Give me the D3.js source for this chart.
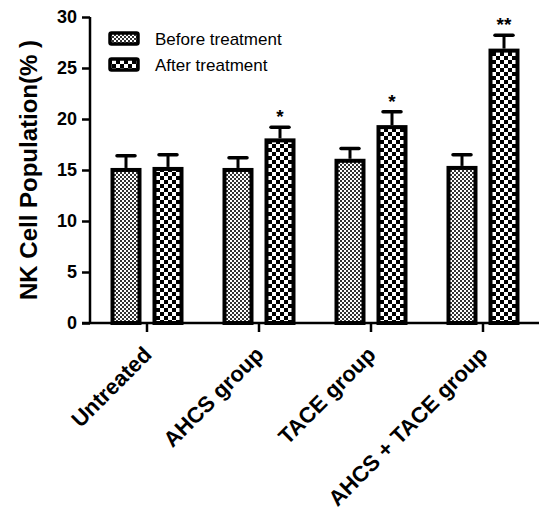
<!DOCTYPE html>
<html>
<head>
<meta charset="utf-8">
<script src="https://cdn.jsdelivr.net/npm/d3@7"></script>
<style>
  html, body { margin: 0; padding: 0; background: #fff; }
  svg { display: block; font-family: Arial, "Liberation Sans", sans-serif; }
</style>
</head>
<body>
<svg id="chart" width="539" height="513"></svg>
<script>
// ==================== DATA ====================
const groups = ['Untreated', 'AHCS group', 'TACE group', 'AHCS + TACE group'];
const seriesKeys = ['before', 'after'];
const seriesLabels = ['Before treatment', 'After treatment'];
const beforeValues = [15.2, 15.2, 16.1, 15.4];
const beforeErrors = [1.2, 1.0, 1.0, 1.1];
const afterValues = [15.3, 18.1, 19.4, 26.9];
const afterErrors = [1.2, 1.1, 1.3, 1.3];
const significance = ['', '*', '*', '**'];
const yTicks = [0, 5, 10, 15, 20, 25, 30];

const rows = groups.map((g, i) => ({
  group: g,
  before: { v: beforeValues[i], e: beforeErrors[i] },
  after: { v: afterValues[i], e: afterErrors[i] },
  sig: significance[i]
}));

const svg = d3.select('#chart');
const axisLeft = 90, axisRight = 539, yTop = 17, yBottom = 323;
const stroke = 4;

// ==================== PATTERNS ====================
const defs = svg.append('defs');
const pFine = defs.append('pattern')
  .attr('id', 'pat-before').attr('patternUnits', 'userSpaceOnUse')
  .attr('width', 4).attr('height', 4);
pFine.append('rect').attr('width', 4).attr('height', 4).attr('fill', '#fff');
pFine.append('rect').attr('width', 2).attr('height', 2).attr('fill', '#333');
pFine.append('rect').attr('x', 2).attr('y', 2).attr('width', 2).attr('height', 2).attr('fill', '#333');

const pCoarse = defs.append('pattern')
  .attr('id', 'pat-after').attr('patternUnits', 'userSpaceOnUse')
  .attr('width', 8).attr('height', 8);
pCoarse.append('rect').attr('width', 8).attr('height', 8).attr('fill', '#fff');
pCoarse.append('rect').attr('width', 4).attr('height', 4).attr('fill', '#000');
pCoarse.append('rect').attr('x', 4).attr('y', 4).attr('width', 4).attr('height', 4).attr('fill', '#000');

const fills = { before: 'url(#pat-before)', after: 'url(#pat-after)' };

// ==================== SCALES ====================
const y = d3.scaleLinear().domain([0, 30]).range([yBottom, yTop]);
const x0 = d3.scaleBand().domain(groups).range([axisLeft + 1, axisRight]).padding(0);
const x1 = d3.scaleBand().domain(seriesKeys).range([-36.5, 36.5]).paddingInner(0.262);
const cx = g => x0(g) + x0.bandwidth() / 2;

// ==================== BARS ====================
const gBars = svg.append('g');
rows.forEach(r => {
  seriesKeys.forEach(k => {
    const left = cx(r.group) + x1(k);
    const w = x1.bandwidth();
    const top = y(r[k].v);
    const capY = y(r[k].v + r[k].e);
    const mid = left + w / 2;
    // error bar
    gBars.append('line')
      .attr('x1', mid).attr('x2', mid)
      .attr('y1', top).attr('y2', capY)
      .attr('stroke', '#000').attr('stroke-width', 3);
    gBars.append('line')
      .attr('x1', mid - 9).attr('x2', mid + 9)
      .attr('y1', capY).attr('y2', capY)
      .attr('stroke', '#000').attr('stroke-width', 3.5)
      .attr('stroke-linecap', 'round');
    gBars.append('rect')
      .attr('x', left + stroke / 2)
      .attr('y', top + stroke / 2)
      .attr('width', w - stroke)
      .attr('height', yBottom - top - stroke / 2)
      .attr('fill', fills[k])
      .attr('stroke', '#000')
      .attr('stroke-width', stroke);
  });
  if (r.sig) {
    const mid = cx(r.group) + x1('after') + x1.bandwidth() / 2;
    svg.append('text')
      .attr('x', mid).attr('y', y(r.after.v + r.after.e) - 4)
      .attr('text-anchor', 'middle')
      .attr('font-size', 19).attr('font-weight', 'bold')
      .text(r.sig);
  }
});

// ==================== AXES ====================
const yAxis = svg.append('g')
  .attr('transform', `translate(${axisLeft},0)`)
  .call(d3.axisLeft(y).tickValues(yTicks).tickSize(8).tickPadding(5));
yAxis.select('.domain').attr('stroke-width', 2.5).attr('d', `M0,${yTop}V${yBottom}`);
yAxis.selectAll('.tick line').attr('stroke-width', 2.5);
yAxis.selectAll('.tick text')
  .attr('font-size', 18).attr('font-weight', 'bold')
  .attr('font-family', 'Arial, "Liberation Sans", sans-serif')
  .attr('fill', '#000');

const xAxis = svg.append('g')
  .attr('transform', `translate(0,${yBottom})`);
xAxis.append('line')
  .attr('x1', axisLeft - 8).attr('x2', axisRight)
  .attr('y1', 0).attr('y2', 0)
  .attr('stroke', '#000').attr('stroke-width', 2.5);
xAxis.selectAll('.xtick')
  .data(groups).enter().append('line')
  .attr('x1', d => cx(d)).attr('x2', d => cx(d))
  .attr('y1', 0).attr('y2', 9)
  .attr('stroke', '#000').attr('stroke-width', 2.5);
xAxis.selectAll('.xlabel')
  .data(groups).enter().append('text')
  .attr('transform', d => `translate(${cx(d) + 6},${33}) rotate(-45)`)
  .attr('text-anchor', 'end')
  .attr('font-size', 22).attr('font-weight', 'bold')
  .text(d => d);

// ==================== Y TITLE ====================
svg.append('text')
  .attr('transform', `translate(37,${(yTop + yBottom) / 2}) rotate(-90)`)
  .attr('text-anchor', 'middle')
  .attr('font-size', 24).attr('font-weight', 'bold')
  .text('NK Cell Population(% )');

// ==================== LEGEND ====================
const legend = svg.append('g');
seriesKeys.forEach((k, i) => {
  const ly = 33 + i * 26;
  legend.append('rect')
    .attr('x', 110).attr('y', ly)
    .attr('width', 28).attr('height', 11)
    .attr('rx', 1.5)
    .attr('fill', fills[k]).attr('stroke', '#000').attr('stroke-width', 3.5);
  legend.append('text')
    .attr('x', 155).attr('y', ly + 12)
    .attr('font-size', 17)
    .text(seriesLabels[i]);
});
</script>
</body>
</html>
